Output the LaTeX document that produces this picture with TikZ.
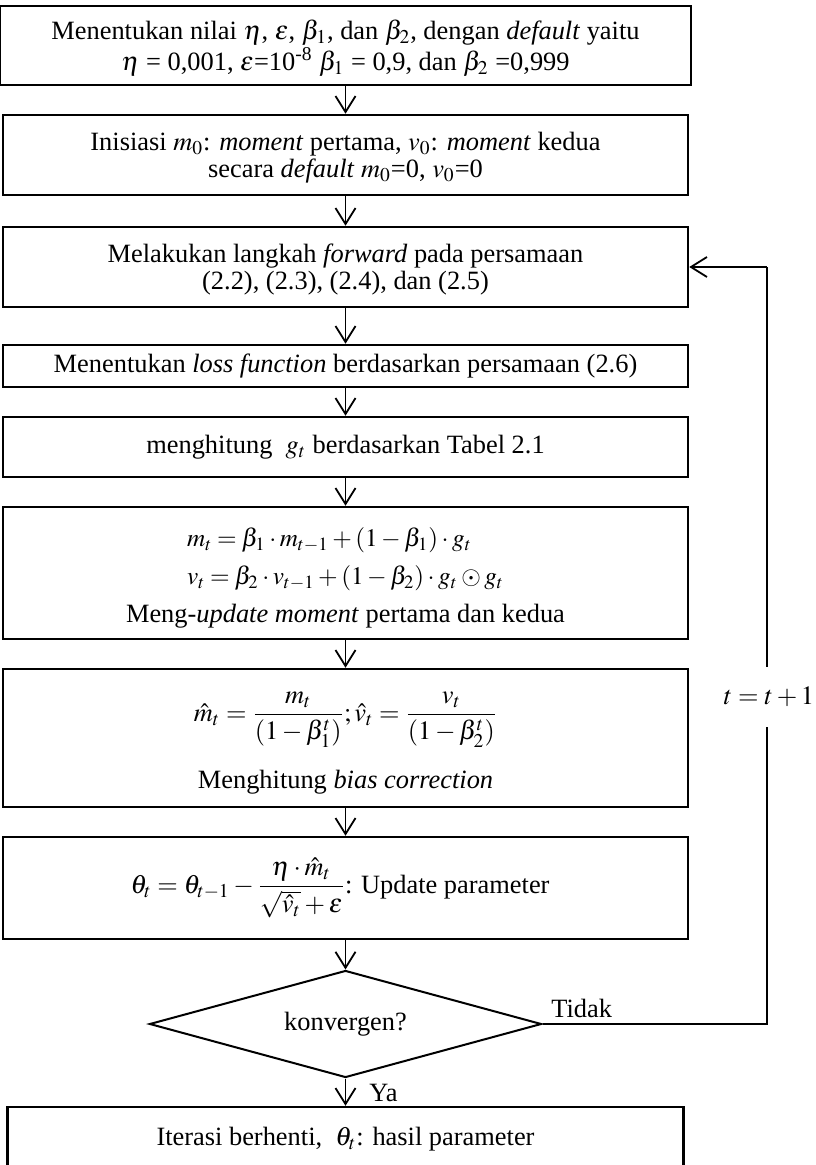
\documentclass[tikz,border=0pt]{standalone}
\usepackage{amsmath}
\usepackage{mathptmx}
\usepackage[no-math]{fontspec}
\setmainfont{Liberation Serif}
\usetikzlibrary{arrows.meta,shapes.geometric}

\begin{document}
\begin{tikzpicture}[x=0.5pt,y=-0.5pt,
  font=\fontsize{13.2}{13.5}\selectfont,
  frame/.style={draw,line width=1.25pt,inner sep=0pt,minimum width=342.5pt},
  boxtext/.style={inner sep=0pt,align=center},
  decision/.style={draw,diamond,aspect=3.66,line width=1pt,inner sep=0pt,
              minimum width=196pt,minimum height=53.5pt},
  arr/.style={line width=0.9pt,-{Straight Barb[length=8pt,width=10pt,line width=0.9pt]}},
  loopline/.style={line width=0.6pt},
  lbl/.style={inner sep=0pt}]

\useasboundingbox (0,0) rectangle (815,1165);
\clip (0,0) rectangle (815,1165);

% process steps: a frame and its text
\node[frame,minimum width=345.5pt,minimum height=39.5pt] (b1) at (345.5,45.5) {};
\node[boxtext] (b1t) at (345.5,48)
  {Menentukan nilai $\eta$, $\varepsilon$, $\beta_1$, dan $\beta_2$, dengan \textit{default} yaitu\\
   $\eta$ = 0,001, $\varepsilon$=10\textsuperscript{-8} $\beta_1$ = 0,9, dan $\beta_2$ =0,999};

\node[frame,minimum height=40pt] (b2) at (345.5,155) {};
\node[boxtext] (b2t) at (345.5,157.5)
  {Inisiasi $m_0$: \textit{moment} pertama, $v_0$: \textit{moment} kedua\\
   secara \textit{default} $m_0$=0, $v_0$=0};

\node[frame,minimum height=40pt] (b3) at (345.5,267) {};
\node[boxtext] (b3t) at (345.5,269.5)
  {Melakukan langkah \textit{forward} pada persamaan\\
   (2.2), (2.3), (2.4), dan (2.5)};

\node[frame,minimum height=21pt] (b4) at (345.5,366) {};
\node[boxtext] (b4t) at (345.5,366)
  {Menentukan \textit{loss function} berdasarkan persamaan (2.6)};

\node[frame,minimum height=30pt] (b5) at (345.5,447) {};
\node[boxtext] (b5t) at (345.5,447)
  {menghitung \ $g_t$ berdasarkan Tabel 2.1};

\node[frame,minimum height=66pt] (b6) at (345.5,573) {};
\node[boxtext] (b6t) at (345.5,578)
  {{\fontsize{12.6}{13.5}\selectfont\medmuskip=2.5mu\thickmuskip=3.5mu
   \begin{tabular}{@{}l@{}}
     $m_t = \beta_1\cdot m_{t-1} + (1-\beta_1)\cdot g_t$\\[5.5pt]
     $v_t = \beta_2\cdot v_{t-1} + (1-\beta_2)\cdot g_t \odot g_t$
   \end{tabular}}\\[5pt]
   Meng-\textit{update moment} pertama dan kedua};

\node[frame,minimum height=69pt] (b7) at (345.5,738) {};
\node[boxtext] (b7t) at (345.5,743)
  {$\displaystyle \hat{m}_t = \frac{m_t}{(1-\beta_1^t)};\hat{v}_t = \frac{v_t}{(1-\beta_2^t)}$\\[10pt]
   Menghitung \textit{bias correction}};

\node[frame,minimum height=51pt] (b8) at (345.5,888) {};
\node[boxtext] (b8t) at (340,888)
  {$\displaystyle \theta_t = \theta_{t-1} - \frac{\eta\cdot\hat{m}_t}{\sqrt{\hat{v}_t}+\varepsilon}$: Update parameter};

\node[decision] (d) at (345.5,1024) {konvergen?};

\node[frame,minimum width=338pt,minimum height=34pt] (b9) at (345.5,1141) {};
\node[boxtext] (b9t) at (345.5,1139)
  {Iterasi berhenti, \ $\theta_t$: hasil parameter};

% main flow
\draw[arr] (b1) -- (b2);
\draw[arr] (b2) -- (b3);
\draw[arr] (b3) -- (b4);
\draw[arr] (b4) -- (b5);
\draw[arr] (b5) -- (b6);
\draw[arr] (b6) -- (b7);
\draw[arr] (b7) -- (b8);
\draw[arr] (b8) -- (d);
\draw[arr] (d) -- (b9);
\node[lbl,anchor=base west] (ya) at (369,1101) {Ya};

% feedback loop when not converged
\coordinate (lb) at (767,1024);
\coordinate (lt) at (767,267);
\draw[loopline] (d.east) -- (lb) -- (lt);
\draw[arr,line width=0.8pt] (lt) -- (b3.east);
\node[lbl,anchor=base west] (tidak) at (551,1017) {Tidak};
\node[fill=white,inner xsep=1pt,inner ysep=10pt] (inc) at (769,697) {$t = t +1$};

\end{tikzpicture}
\end{document}
